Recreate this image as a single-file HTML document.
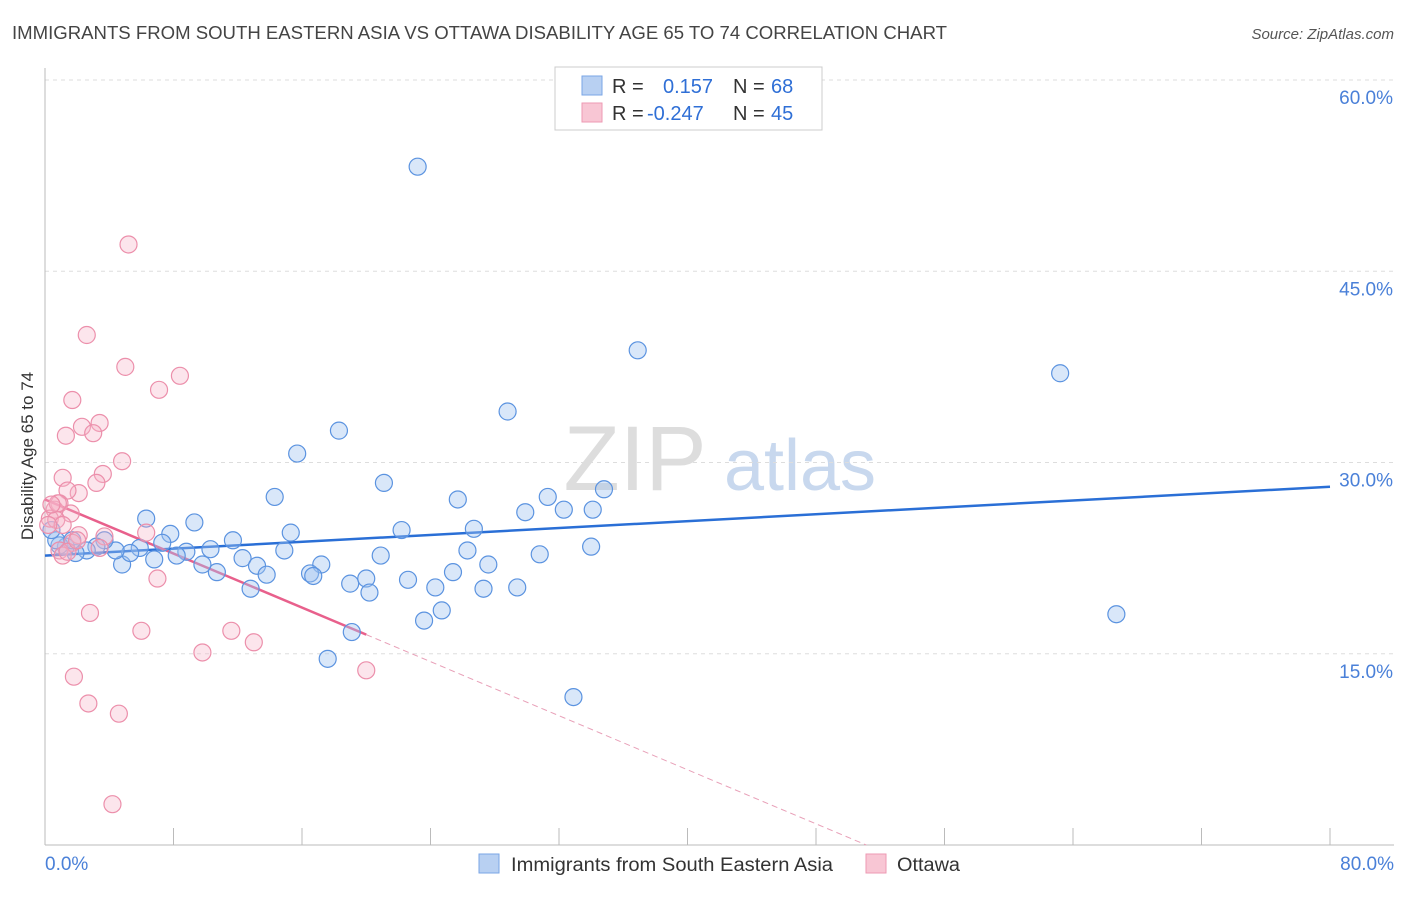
<!DOCTYPE html>
<html><head><meta charset="utf-8"><style>
body{margin:0;background:#fff;font-family:"Liberation Sans",sans-serif;}
svg text{font-family:"Liberation Sans",sans-serif;}
</style></head><body>
<svg id="chart" width="1406" height="892" viewBox="0 0 1406 892" xmlns="http://www.w3.org/2000/svg">
<text x="12" y="39" font-size="18" fill="#444" textLength="935" lengthAdjust="spacingAndGlyphs">IMMIGRANTS FROM SOUTH EASTERN ASIA VS OTTAWA DISABILITY AGE 65 TO 74 CORRELATION CHART</text>
<text x="1394" y="39" font-size="15" fill="#555" text-anchor="end" font-style="italic">Source: ZipAtlas.com</text>
<text transform="translate(33,456) rotate(-90)" font-size="17" fill="#333" text-anchor="middle">Disability Age 65 to 74</text>
<g><text x="635" y="490" font-size="92" fill="#ddd" text-anchor="middle" font-family="Liberation Serif,serif">ZIP</text><text x="800" y="490" font-size="72" fill="#c8d8ee" text-anchor="middle">atlas</text></g>
<g id="grid"></g><g id="axes"></g><g id="lines"></g><g id="pts"></g>
<g>
<rect x="555" y="67" width="267" height="63" fill="#fff" stroke="#ccc"/>
<rect x="582" y="76" width="20" height="19" fill="#b8d0f2" stroke="#7aa6e6"/>
<rect x="582" y="103" width="20" height="19" fill="#f8c6d4" stroke="#ee9ab3"/>
<text x="612" y="93" font-size="20" fill="#333">R = </text><text x="663" y="93" font-size="20" fill="#2f6fd6">0.157</text>
<text x="733" y="93" font-size="20" fill="#333">N = </text><text x="771" y="93" font-size="20" fill="#2f6fd6">68</text>
<text x="612" y="120" font-size="20" fill="#333">R = </text><text x="647" y="120" font-size="20" fill="#2f6fd6">-0.247</text>
<text x="733" y="120" font-size="20" fill="#333">N = </text><text x="771" y="120" font-size="20" fill="#2f6fd6">45</text>
</g>
<g>
<rect x="479" y="854" width="20" height="19" fill="#b8d0f2" stroke="#7aa6e6"/>
<text x="511" y="871" font-size="19" fill="#333" textLength="322" lengthAdjust="spacingAndGlyphs">Immigrants from South Eastern Asia</text>
<rect x="866" y="854" width="20" height="19" fill="#f8c6d4" stroke="#ee9ab3"/>
<text x="897" y="871" font-size="19" fill="#333" textLength="63" lengthAdjust="spacingAndGlyphs">Ottawa</text>
</g>
</svg>
<script>
const yTicks=[15,30,45,60];
const yTickLabels=["15.0%","30.0%","45.0%","60.0%"];
const xTicks=[0,8,16,24,32,40,48,56,64,72,80];
const blueX=[23.2,36.9,63.2,28.8,18.3,15.7,21.1,14.3,25.7,34.8,31.3,29.9,32.3,34.1,6.3,9.3,7.8,11.7,15.3,22.2,26.7,34.0,26.3,30.8,14.9,20.9,17.2,27.6,25.4,22.6,24.3,27.3,29.4,19.0,20.0,20.2,16.5,16.7,12.3,13.2,13.8,10.7,9.8,10.3,8.8,8.2,6.8,7.3,5.9,4.8,5.3,4.4,3.7,3.2,2.6,1.9,1.3,0.9,0.7,1.7,12.8,24.7,23.6,19.1,17.6,32.9,66.7,0.4];
const blueY=[53.2,38.8,37.0,34.0,32.5,30.7,28.4,27.3,27.1,27.9,27.3,26.1,26.3,26.3,25.6,25.3,24.4,23.9,24.5,24.7,24.8,23.4,23.1,22.8,23.1,22.7,22.0,22.0,21.4,20.8,20.2,20.1,20.2,20.5,20.9,19.8,21.3,21.1,22.5,21.9,21.2,21.4,22.0,23.2,23.0,22.7,22.4,23.7,23.3,22.0,22.9,23.1,23.9,23.4,23.1,22.9,23.4,23.5,23.9,23.9,20.1,18.4,17.6,16.7,14.6,11.6,18.1,24.7];
const pinkX=[5.2,2.6,5.0,8.4,7.1,1.7,2.3,3.4,1.3,3.0,4.8,1.1,3.6,2.1,3.2,1.4,0.9,1.6,0.6,0.3,0.7,1.1,0.2,3.7,2.1,1.7,0.9,1.1,1.4,6.3,7.0,2.8,6.0,11.6,13.0,9.8,1.8,2.7,4.6,20.0,4.2,0.8,0.4,2.0,3.4];
const pinkY=[47.1,40.0,37.5,36.8,35.7,34.9,32.8,33.1,32.1,32.3,30.1,28.8,29.1,27.6,28.4,27.8,26.8,26.0,26.3,25.6,25.5,25.1,25.1,24.2,24.3,23.7,23.1,22.7,23.0,24.5,20.9,18.2,16.8,16.8,15.9,15.1,13.2,11.1,10.3,13.7,3.2,26.8,26.7,23.9,23.3];
const blueTrend=[22.7,28.1];
const pinkTrend=[27.1,-0.53];
const NS="http://www.w3.org/2000/svg";
const X=v=>45+v*1285/80, Y=v=>845-v*12.75;
function mk(p,t,a){const e=document.createElementNS(NS,t);for(const k in a)e.setAttribute(k,a[k]);document.getElementById(p).appendChild(e);return e;}
yTicks.forEach((t,i)=>{
 const g=mk('grid','line',{x1:45,x2:1394,y1:Y(t),y2:Y(t),stroke:'#ddd','stroke-dasharray':'4,4'});
 
 
 const l=mk('axes','text',{x:1393,y:Y(t)+24,'font-size':19,fill:'#4a80d8','text-anchor':'end'});
 l.textContent=yTickLabels[i];
 
 
});
const ax=mk('axes','line',{x1:45,x2:45,y1:68,y2:845,stroke:'#bbb'});


const bx=mk('axes','line',{x1:45,x2:1394,y1:845,y2:845,stroke:'#bbb'});


xTicks.forEach(t=>{const e=mk('axes','line',{x1:X(t),x2:X(t),y1:828,y2:845,stroke:'#bbb'});
 
 });
[[0,"0.0%",'start',45],[80,"80.0%",'end',1394]].forEach(([v,s,a,px])=>{const e=mk('axes','text',{x:px,y:870,'font-size':19,fill:'#4a80d8','text-anchor':a});e.textContent=s;
 
 });
blueX.forEach((x,i)=>{const c=mk('pts','circle',{cx:X(x),cy:Y(blueY[i]),r:8.5,fill:'rgba(160,195,240,0.4)',stroke:'#5b93e0','stroke-width':1.2});
 
 });
pinkX.forEach((x,i)=>{const c=mk('pts','circle',{cx:X(x),cy:Y(pinkY[i]),r:8.5,fill:'rgba(245,180,200,0.35)',stroke:'#ec8fab','stroke-width':1.2});
 
 });
const bl=mk('lines','line',{x1:X(0),y1:Y(blueTrend[0]),x2:X(80),y2:Y(blueTrend[1]),stroke:'#2a6fd6','stroke-width':2.5});


const pxEnd=Math.max(...pinkX), pz=-pinkTrend[0]/pinkTrend[1];
const pl=mk('lines','line',{x1:X(0),y1:Y(pinkTrend[0]),x2:X(pxEnd),y2:Y(pinkTrend[0]+pinkTrend[1]*pxEnd),stroke:'#e8608c','stroke-width':2.5});


const pd=mk('lines','line',{x1:X(pxEnd),y1:Y(pinkTrend[0]+pinkTrend[1]*pxEnd),x2:X(pz),y2:Y(0),stroke:'#e8a0b8','stroke-width':1,'stroke-dasharray':'6,4'});


</script>
</body></html>
